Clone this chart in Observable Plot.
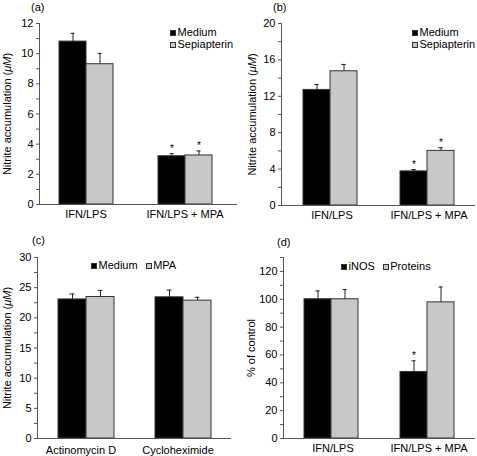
<!DOCTYPE html>
<html>
<head>
<meta charset="utf-8">
<script src="https://cdn.jsdelivr.net/npm/d3@7"></script>
<script src="https://cdn.jsdelivr.net/npm/@observablehq/plot@0.6"></script>
<style>
  body { margin: 0; background: #fff; }
  #wrap { position: relative; width: 477px; height: 456px; font-family: "Liberation Sans", Arial, sans-serif; font-size: 11px; color: #000; }
  .panel { position: absolute; }
  .tag { position: absolute; font-size: 11px; line-height: 11px; }
  .legend { position: absolute; font-size: 11px; line-height: 12px; white-space: nowrap; }
  .legend .sw { display: inline-block; width: 6px; height: 6px; box-sizing: border-box; border: 1px solid #333; margin-right: 1.5px; vertical-align: 0px; }
  .legend .row { display: block; }
  .legend.h .row { display: inline-block; margin-right: 8px; }
</style>
</head>
<body>
<div id="wrap"></div>
<script>
// ---------- data ----------
const groupsAB = ["IFN/LPS", "IFN/LPS + MPA"];
const groupsC = ["Actinomycin D", "Cycloheximide"];
const seriesAB = ["Medium", "Sepiapterin"];
const seriesC = ["Medium", "MPA"];
const seriesD = ["iNOS", "Proteins"];

// panel (a)
const aMedium = [10.8, 3.2];
const aMediumErr = [0.55, 0.17];
const aSepia = [9.3, 3.25];
const aSepiaErr = [0.72, 0.3];
const aMediumStar = [false, true];
const aSepiaStar = [false, true];
const aTicks = [0, 2, 4, 6, 8, 10, 12];
const aMinor = [1, 3, 5, 7, 9, 11];

// panel (b)
const bMedium = [12.7, 3.75];
const bMediumErr = [0.6, 0.2];
const bSepia = [14.75, 6.0];
const bSepiaErr = [0.75, 0.35];
const bMediumStar = [false, true];
const bSepiaStar = [false, true];
const bTicks = [0, 4, 8, 12, 16, 20];
const bMinor = [2, 6, 10, 14, 18];

// panel (c)
const cMedium = [23.05, 23.4];
const cMediumErr = [0.9, 1.2];
const cMPA = [23.45, 22.85];
const cMPAErr = [1.1, 0.55];
const cMediumStar = [false, false];
const cMPAStar = [false, false];
const cTicks = [0, 5, 10, 15, 20, 25, 30];
const cMinor = [2.5, 7.5, 12.5, 17.5, 22.5, 27.5];

// panel (d)
const dINOS = [100, 47.8];
const dINOSErr = [6, 8];
const dProteins = [100, 97.8];
const dProteinsErr = [7, 11];
const dINOSStar = [false, true];
const dProteinsStar = [false, false];
const dTicks = [0, 20, 40, 60, 80, 100, 120];
const dMinor = [10, 30, 50, 70, 90, 110, 130];

const colors = ["#000000", "#c8c8c8"];
const FONT = '"Liberation Sans", Arial, sans-serif';

function makePanel(o) {
  const rows = [];
  o.groups.forEach((g, i) => o.series.forEach((s, j) => rows.push({
    group: g, series: s, value: o.values[j][i], err: o.errs[j][i], star: o.stars[j][i]
  })));
  const facetW = (o.width - o.ml - o.mr) / 2;
  const bw = facetW / (2 + 2 * o.pad);
  const cap = Math.max(0, (bw - 5) / 2);
  const svg = Plot.plot({
    width: o.width, height: 228,
    marginLeft: o.ml, marginRight: o.mr, marginTop: o.mt, marginBottom: o.mb,
    style: { fontFamily: FONT, fontSize: "11px", color: "#000", background: "transparent", overflow: "visible" },
    fx: { domain: o.groups, paddingInner: 0, paddingOuter: 0, label: null },
    x: { domain: o.series, paddingInner: 0, paddingOuter: o.pad, align: o.align ?? 0.5, axis: null },
    y: { domain: [0, o.ymax] },
    color: { domain: o.series, range: colors },
    marks: [
      Plot.barY(rows, { fx: "group", x: "series", y: "value", fill: "series", stroke: "#333", strokeWidth: 1 }),
      Plot.ruleX(rows, { fx: "group", x: "series", y1: "value", y2: d => d.value + d.err, stroke: "#222", strokeWidth: 1 }),
      Plot.tickY(rows, { fx: "group", x: "series", y: d => d.value + d.err, insetLeft: cap, insetRight: cap, stroke: "#222", strokeWidth: 1 }),
      Plot.text(rows.filter(d => d.star), { fx: "group", x: "series", y: d => d.value + d.err, text: () => "*", fill: "#000", dy: -2, lineAnchor: "bottom", fontSize: 10 }),
      Plot.ruleY([0], { stroke: "#555" }),
      Plot.frame({ anchor: "left", stroke: "#555", facetAnchor: "left" }),
      Plot.axisY(o.ticks, { tickSize: 3, tickPadding: 3, stroke: "#555", fill: "#000", label: o.label, labelAnchor: "center", labelArrow: "none", labelOffset: o.lo }),
      Plot.axisY(o.minor, { tickSize: 3, stroke: "#555", tickFormat: () => "", label: null }),
      Plot.axisFx({ anchor: "bottom", tickSize: 0, tickPadding: o.tp, fill: "#000", label: null, dx: o.ldx ?? 0 })
    ]
  });
  svg.classList.add("panel");
  svg.style.left = o.left + "px";
  svg.style.top = o.top + "px";
  if (o.italic) {
    const t = svg.querySelector('g[aria-label="y-axis label"] text');
    if (t) t.innerHTML = 'Nitrite accumulation (<tspan font-style="italic">μM</tspan>)';
  }
  return svg;
}

const wrap = document.getElementById("wrap");
const nitrite = "Nitrite accumulation (μM)";

wrap.appendChild(makePanel({
  left: 0, top: 0, width: 239, ml: 39, mr: 2, mt: 23, mb: 24, pad: 0.77, align: 0.45,
  groups: groupsAB, series: seriesAB, values: [aMedium, aSepia], errs: [aMediumErr, aSepiaErr],
  stars: [aMediumStar, aSepiaStar], ymax: 12, ticks: aTicks, minor: aMinor,
  label: nitrite, lo: 36, tp: 6, ldx: -3, italic: true
}));
wrap.appendChild(makePanel({
  left: 238, top: 0, width: 239, ml: 43, mr: 2, mt: 23, mb: 23, pad: 0.76, align: 0.5,
  groups: groupsAB, series: seriesAB, values: [bMedium, bSepia], errs: [bMediumErr, bSepiaErr],
  stars: [bMediumStar, bSepiaStar], ymax: 20, ticks: bTicks, minor: bMinor,
  label: nitrite, lo: 33, tp: 6, ldx: 2, italic: true
}));
wrap.appendChild(makePanel({
  left: 0, top: 228, width: 238, ml: 37, mr: 7, mt: 29, mb: 18, pad: 0.73, align: 0.5,
  groups: groupsC, series: seriesC, values: [cMedium, cMPA], errs: [cMediumErr, cMPAErr],
  stars: [cMediumStar, cMPAStar], ymax: 30, ticks: cTicks, minor: cMinor,
  label: nitrite, lo: 34.5, tp: 8, ldx: -5, italic: true
}));
wrap.appendChild(makePanel({
  left: 238, top: 228, width: 239, ml: 45, mr: 2, mt: 29, mb: 18, pad: 0.72, align: 0.5,
  groups: groupsAB, series: seriesD, values: [dINOS, dProteins], errs: [dINOSErr, dProteinsErr],
  stars: [dINOSStar, dProteinsStar], ymax: 130, ticks: dTicks, minor: dMinor,
  label: "% of control", lo: 36, tp: 6, ldx: 1.5, italic: false
}));

// panel tags
[["(a)", 31, 2], ["(b)", 273, 2], ["(c)", 32, 235], ["(d)", 277, 237]].forEach(([t, x, y]) => {
  const s = document.createElement("div");
  s.className = "tag"; s.textContent = t; s.style.left = x + "px"; s.style.top = y + "px";
  wrap.appendChild(s);
});

// legends
function legend(series, x, y, horizontal) {
  const L = document.createElement("div");
  L.className = "legend" + (horizontal ? " h" : "");
  L.style.left = x + "px"; L.style.top = y + "px";
  series.forEach((s, i) => {
    const r = document.createElement("span");
    r.className = "row";
    const sw = document.createElement("span");
    sw.className = "sw"; sw.style.background = colors[i];
    r.appendChild(sw);
    r.appendChild(document.createTextNode(s));
    L.appendChild(r);
  });
  wrap.appendChild(L);
}
legend(seriesAB, 170, 26, false);
legend(seriesAB, 412, 26, false);
legend(seriesC, 91, 259, true);
legend(seriesD, 341, 260, true);
</script>
</body>
</html>
